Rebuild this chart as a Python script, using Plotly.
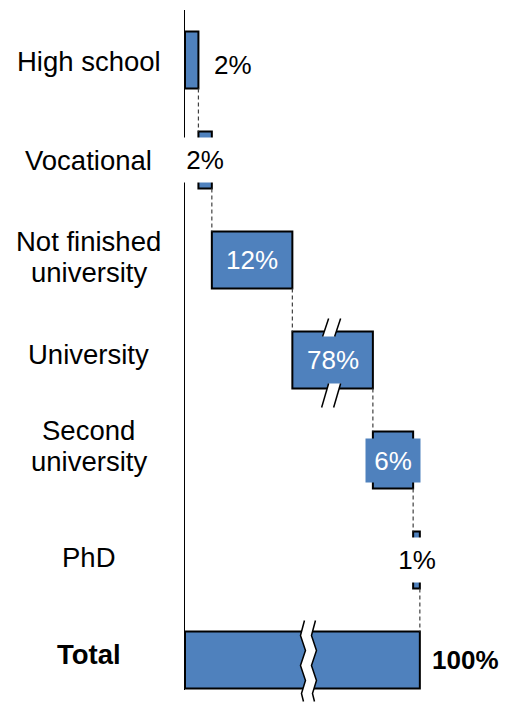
import plotly.graph_objects as go

# ---------------- data ----------------
categories = ["High school", "Vocational", "Not finished<br>university",
              "University", "Second<br>university", "PhD"]
shares = [2, 2, 12, 78, 6, 1]
total_name = "Total"
total_share = 100
# part of each bar hidden by the axis break (University bar is broken)
break_cut = [0, 0, 0, 66, 0, 0]

# ---------------- geometry / style ----------------
W, H = 508, 705
M_L, M_R, M_T, M_B = 185, 8, 10, 15
PW, PH = W - M_L - M_R, H - M_T - M_B
PXU = 6.71                 # pixels per displayed percentage unit
BAR_H = 0.57               # bar thickness in category units
BLUE = "#4F81BD"
FONT = "Liberation Sans, Arial, sans-serif"
FS_CAT = 27.5
FS = 26
LINE_GAP = 31              # px between lines of two-line category labels
# small vertical nudges (px, + = down) of the category labels
label_nudge = [1.5, 0, -3, -6, -14, -2.5, -5.5]

disp = [s - c for s, c in zip(shares, break_cut)]
bases = [sum(disp[:i]) for i in range(len(disp))]
ends = [b + d for b, d in zip(bases, disp)]
total_disp = ends[-1]
n = len(categories) + 1
y_pos = list(range(n))
Y_TOP, Y_BOT = -0.5, n - 0.7
XMAX = PW / PXU
PYU = PH / (Y_BOT - Y_TOP)  # pixels per category unit


def P(xd, yd, dxp=0.0, dyp=0.0):
    """data coords + pixel offsets (dy positive = down) -> paper coords"""
    px = xd * PXU + dxp
    py = (yd - Y_TOP) * PYU + dyp
    return px / PW, 1 - py / PH


def path(points, close=False):
    s = "M " + " L ".join(f"{x:.5f},{y:.5f}" for x, y in points)
    return s + (" Z" if close else "")


fig = go.Figure()
fig.add_trace(go.Bar(
    y=y_pos[:-1], x=disp, base=bases, orientation="h", width=BAR_H,
    marker=dict(color=BLUE, line=dict(color="black", width=2)),
    hoverinfo="skip", showlegend=False))
fig.add_trace(go.Bar(
    y=[y_pos[-1]], x=[total_disp], base=[0], orientation="h", width=BAR_H,
    marker=dict(color=BLUE, line=dict(color="black", width=2)),
    hoverinfo="skip", showlegend=False))

shapes = []
# dashed connectors
for i in range(len(categories)):
    shapes.append(dict(type="line", xref="x", yref="y",
                       x0=ends[i], x1=ends[i],
                       y0=y_pos[i] + BAR_H / 2, y1=y_pos[i + 1] - BAR_H / 2,
                       line=dict(color="#404040", width=1.2, dash="4px,3px")))

# slanted break marks on broken bars
for i, c in enumerate(break_cut):
    if c <= 0:
        continue
    xb = (bases[i] + ends[i]) / 2
    top = y_pos[i] - BAR_H / 2
    bot = y_pos[i] + BAR_H / 2
    for yref_, (y_lo, y_hi), (xl_lo, xl_hi) in (
            (top, (5, -13), (-10, -4)),
            (bot, (19, -5), (-11, -4))):
        l1 = P(xb, yref_, xl_lo, y_lo)
        l2 = P(xb, yref_, xl_hi, y_hi)
        r1 = P(xb, yref_, xl_lo + 12, y_lo)
        r2 = P(xb, yref_, xl_hi + 12, y_hi)
        shapes.append(dict(type="path", xref="paper", yref="paper",
                           path=path([l1, l2, r2, r1], close=True),
                           fillcolor="white", line=dict(width=0)))
        shapes.append(dict(type="path", xref="paper", yref="paper",
                           path=path([l1, l2]),
                           line=dict(color="black", width=1.5)))
        shapes.append(dict(type="path", xref="paper", yref="paper",
                           path=path([r1, r2]),
                           line=dict(color="black", width=1.5)))

# zigzag break on the total bar
xz = total_disp * 0.53
ttop = y_pos[-1] - BAR_H / 2
zig = [(1, -11), (-3, 4), (2, 19), (-3, 34), (2, 49), (-2, 62), (0, 70)]
left = [P(xz, ttop, dx - 6, dy) for dx, dy in zig]
right = [P(xz, ttop, dx + 5, dy) for dx, dy in zig]
shapes.append(dict(type="path", xref="paper", yref="paper",
                   path=path(left + right[::-1], close=True),
                   fillcolor="white", line=dict(width=0)))
shapes.append(dict(type="path", xref="paper", yref="paper", path=path(left),
                   line=dict(color="black", width=1.5)))
shapes.append(dict(type="path", xref="paper", yref="paper", path=path(right),
                   line=dict(color="black", width=1.5)))

annotations = []
# category labels (multi-line labels are split to control line spacing)
label_x = -(M_L - 89) / PW
for i, name in enumerate(categories + [f"<b>{total_name}</b>"]):
    lines = name.split("<br>")
    k = len(lines)
    for j, line in enumerate(lines):
        off = (j - (k - 1) / 2) * LINE_GAP + label_nudge[i]
        annotations.append(dict(xref="paper", yref="y", x=label_x,
                                y=y_pos[i], yshift=-off,
                                text=line, showarrow=False, xanchor="center",
                                yanchor="middle", align="center",
                                font=dict(family=FONT, size=FS_CAT,
                                          color="black")))

# value labels
label_style = ["outside", "whitebox", "inside", "inside", "bluebox", "whitebox"]
for i, (s, st) in enumerate(zip(shares, label_style)):
    mid = (bases[i] + ends[i]) / 2
    txt = f"{s}%"
    a = dict(xref="x", yref="y", y=y_pos[i], text=txt, showarrow=False,
             yanchor="middle", font=dict(family=FONT, size=FS, color="black"))
    if st == "outside":
        a.update(x=ends[i], xanchor="left", xshift=14, yshift=-5)
    elif st == "whitebox":
        a.update(x=mid, xanchor="center", bgcolor="white", width=44,
                 height=44, borderpad=0)
    elif st == "inside":
        a.update(x=mid, xanchor="center", font=dict(family=FONT, size=FS,
                                                     color="white"))
    elif st == "bluebox":
        a.update(x=mid, xanchor="center", bgcolor=BLUE, width=54,
                 height=43, borderpad=0,
                 font=dict(family=FONT, size=FS, color="white"))
    annotations.append(a)

annotations.append(dict(xref="x", yref="y", x=total_disp, y=y_pos[-1],
                        text=f"<b>{total_share}%</b>", showarrow=False,
                        xanchor="left", yanchor="middle", xshift=10,
                        font=dict(family=FONT, size=FS, color="black")))

fig.update_layout(
    width=W, height=H,
    margin=dict(l=M_L, r=M_R, t=M_T, b=M_B, pad=0, autoexpand=False),
    paper_bgcolor="white", plot_bgcolor="white",
    barmode="overlay",
    xaxis=dict(range=[0, XMAX], visible=False, fixedrange=True),
    yaxis=dict(range=[Y_BOT, Y_TOP], showline=True, linecolor="black",
               linewidth=1.5, showticklabels=False, showgrid=False,
               zeroline=False, ticks="", fixedrange=True),
    shapes=shapes, annotations=annotations,
    font=dict(family=FONT),
    hovermode=False,
)

fig.write_html(
    "out.html",
    config={"displayModeBar": False, "staticPlot": True},
    post_script="document.body.style.margin='0';"
                "document.body.style.overflow='hidden';",
)
